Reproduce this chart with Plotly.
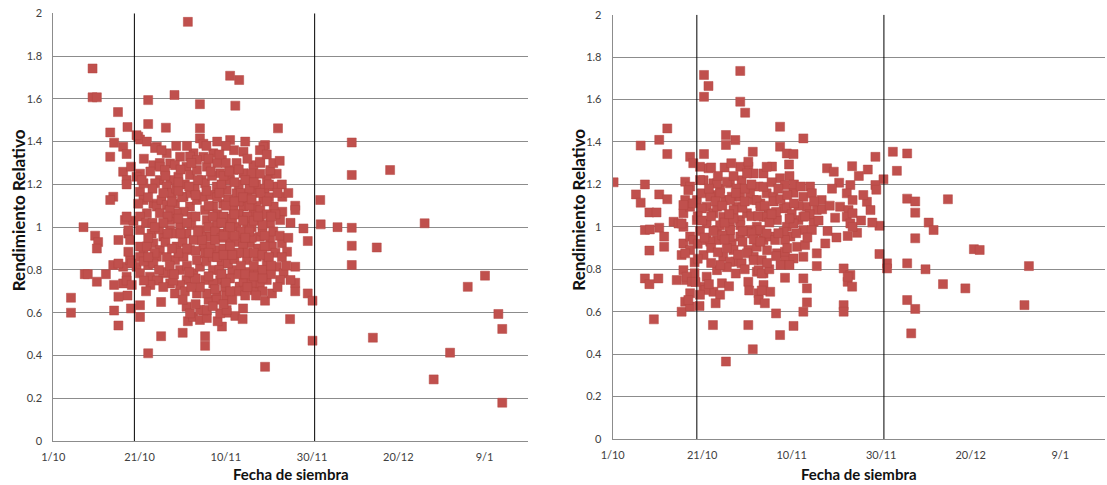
import plotly.graph_objects as go

# Sowing date expressed as days after 1 October, relative yield per field
left_points = [
    (4.1, 0.67), (4.1, 0.60), (7.3, 0.78), (8.0, 0.78), (10.1, 0.745), (12.2, 0.78), (7.0, 1.0),
    (9.7, 0.96), (10.4, 0.93), (10.1, 0.90), (14.1, 0.73), (15.1, 0.675), (14.1, 0.61), (15.1, 0.54),
    (17.2, 0.68), (18.0, 0.62), (20.1, 0.635), (20.1, 0.58), (22.0, 0.41), (25.0, 0.65), (25.0, 0.49),
    (30.0, 0.506), (35.2, 0.49), (35.2, 0.445), (31.2, 0.56), (49.1, 0.347), (39.1, 0.535), (38.1, 0.56),
    (40.2, 0.60), (42.2, 0.585), (43.9, 0.57), (43.2, 0.72), (46.6, 0.705), (49.1, 0.656), (32.4, 0.58),
    (34.0, 0.566), (35.6, 0.575), (34.8, 0.61), (36.0, 0.66), (37.9, 0.68), (40.1, 0.68),
    (54.9, 0.57), (59.0, 0.69), (60.1, 0.656), (60.1, 0.469), (56.1, 0.70), (56.1, 0.74), (56.1, 0.815),
    (59.0, 0.935), (69.2, 0.913), (69.2, 0.823), (75.0, 0.905), (74.1, 0.483), (88.2, 0.288),
    (92.0, 0.413), (96.1, 0.721), (100.1, 0.773), (103.2, 0.594), (104.1, 0.524), (104.1, 0.179),
    (65.9, 1.0), (69.2, 0.997), (52.1, 1.462), (69.2, 1.396), (69.2, 1.244), (78.1, 1.267), (61.9, 1.127),
    (62.0, 1.013), (86.1, 1.018), (58.0, 0.994), (56.1, 1.10), (56.1, 1.08), (53.1, 1.142), (53.1, 1.072),
    (49.1, 1.384), (50.3, 1.25), (51.8, 1.25), (48.0, 1.30),
    (31.2, 1.96), (9.1, 1.742), (9.1, 1.607), (10.1, 1.607), (41.0, 1.708), (43.1, 1.688), (42.2, 1.568),
    (34.0, 1.575), (28.1, 1.618), (22.0, 1.594), (15.0, 1.538), (17.2, 1.468), (22.0, 1.482), (26.1, 1.465),
    (34.0, 1.462), (13.2, 1.443), (14.1, 1.395), (13.2, 1.329), (16.2, 1.376), (17.0, 1.342), (13.9, 1.142),
    (13.2, 1.127), (16.2, 1.259), (17.0, 1.22), (17.0, 1.20), (18.0, 1.283), (19.7, 1.423), (20.1, 1.41),
    (21.7, 1.40), (24.0, 1.376), (26.3, 1.345), (15.1, 0.94), (16.6, 1.033), (18.6, 1.03), (20.1, 1.165),
    (20.9, 1.205), (20.1, 1.25), (23.2, 1.29), (24.7, 1.30), (27.1, 1.298), (29.4, 1.329), (32.5, 1.345),
    (34.8, 1.329), (37.1, 1.345), (41.0, 1.407), (41.9, 1.36), (44.1, 1.353), (48.7, 1.376), (46.4, 1.29),
    (19.3, 1.43), (34.0, 1.415), (34.8, 1.39), (23.6, 1.37), (25.1, 1.36), (31.7, 1.33), (33.3, 1.314),
    (19.3, 1.236), (20.5, 1.22), (24.7, 1.283), (25.9, 1.267), (28.2, 1.29), (29.0, 1.236), (27.1, 1.22),
    (24.7, 1.22), (30.9, 1.283), (31.7, 1.244), (33.3, 1.267), (34.4, 1.22), (26.3, 1.19), (23.6, 1.205),
    (20.9, 1.127), (19.7, 1.11), (23.2, 1.11), (24.0, 1.096), (25.1, 1.127), (26.3, 1.104), (28.2, 1.11),
    (30.2, 1.142), (31.7, 1.158), (31.7, 1.096), (33.3, 1.127), (34.8, 1.142), (35.2, 1.08), (30.2, 1.072),
    (32.1, 1.05), (21.7, 1.065), (20.1, 1.05), (17.0, 1.05), (24.7, 1.065), (27.1, 1.033), (28.6, 1.065),
    (17.4, 0.97), (17.8, 0.94), (20.1, 0.987), (22.8, 0.97), (23.2, 0.925), (25.5, 0.956), (27.1, 0.987),
    (29.4, 1.0), (30.9, 0.97), (32.5, 0.94), (34.0, 0.987), (35.6, 0.956), (28.6, 0.909), (31.7, 0.893),
    (34.8, 0.909), (24.7, 0.893), (20.9, 0.878), (20.1, 0.909),
    (13.9, 0.823), (16.2, 0.815), (17.8, 0.846), (17.0, 0.768), (16.2, 0.737), (19.3, 0.815), (20.1, 0.784),
    (22.0, 0.823), (22.4, 0.768), (24.0, 0.862), (24.4, 0.753), (26.3, 0.784), (27.1, 0.737), (28.2, 0.846),
    (29.4, 0.8), (30.9, 0.753), (32.5, 0.784), (34.0, 0.815), (35.2, 0.753), (30.2, 0.862), (33.3, 0.846),
    (28.2, 0.69), (30.9, 0.628), (31.7, 0.597), (34.0, 0.613), (29.4, 0.73), (33.3, 0.69),
    (17.4, 0.985), (17.4, 0.885), (15.1, 0.83), (18.2, 0.83), (17.0, 0.75), (18.2, 0.73), (20.1, 0.86),
    (21.7, 0.91), (23.2, 0.83), (24.0, 0.75), (25.5, 0.79), (26.3, 0.86), (27.8, 0.75),
    (47.9, 1.36), (39.1, 1.314), (47.9, 1.306), (50.3, 1.267),
    (35.6, 1.283), (38.7, 1.252), (41.8, 1.267), (44.1, 1.252), (45.6, 1.22), (49.5, 1.22), (51.1, 1.19),
    (35.2, 1.205), (37.9, 1.19), (40.2, 1.174), (42.5, 1.158), (46.4, 1.174), (48.7, 1.127), (51.1, 1.096),
    (37.1, 1.096), (39.4, 1.11), (41.8, 1.08), (44.1, 1.096), (46.4, 1.065), (47.9, 1.033), (50.3, 1.018),
    (52.6, 1.033), (35.6, 1.033), (37.9, 1.018), (40.2, 1.033), (42.5, 1.002), (44.9, 1.018), (36.4, 0.955),
    (38.7, 0.97), (41.0, 0.94), (43.3, 0.955), (45.6, 0.925), (47.9, 0.955), (50.3, 0.94), (50.7, 0.909),
    (53.0, 0.925), (54.2, 0.885), (35.2, 0.878), (37.9, 0.893), (40.2, 0.862), (42.5, 0.878), (44.9, 0.846),
    (47.2, 0.862), (49.5, 0.831), (51.8, 0.815), (53.4, 0.784), (55.0, 0.753), (52.6, 0.753), (49.5, 0.753),
    (47.9, 0.737), (43.3, 0.722), (44.1, 0.745), (38.7, 0.753), (39.8, 0.722), (37.1, 0.737), (35.6, 0.69),
    (37.9, 0.66), (35.6, 0.613), (38.7, 0.597), (40.2, 0.613), (50.7, 0.69),
    (36.5, 1.15), (39.0, 1.2), (41.0, 1.22), (43.0, 1.2), (45.0, 1.14), (47.0, 1.1), (38.0, 1.06),
    (40.5, 1.0), (43.5, 0.98), (46.0, 1.0), (48.5, 0.98), (39.5, 0.9), (41.5, 0.8), (45.5, 0.79),
    (47.5, 0.8), (42.5, 0.93), (37.0, 0.8), (39.0, 0.83),
    (21.0, 1.32), (22.5, 1.26), (23.0, 1.18), (22.0, 1.14), (21.5, 1.02), (22.0, 0.95), (21.0, 0.84),
    (23.5, 0.88), (22.5, 0.73), (21.5, 0.70), (26.0, 1.24), (27.5, 1.16), (28.5, 1.18), (29.5, 1.27),
    (29.8, 1.14), (30.5, 1.20), (27.0, 1.08), (29.0, 1.04), (28.0, 0.97), (26.0, 0.93), (30.0, 0.93),
    (29.0, 0.88), (27.0, 0.82), (25.5, 0.72), (28.0, 0.78), (31.0, 0.82), (32.0, 1.01), (33.0, 1.05),
    (32.8, 1.18), (33.5, 1.22), (32.0, 1.30), (36.0, 1.32), (38.0, 1.30), (40.0, 1.30), (42.5, 1.30),
    (45.0, 1.32), (46.0, 1.25), (48.0, 1.25), (49.0, 1.18), (47.0, 1.20), (36.8, 1.24), (39.5, 1.24),
    (42.0, 1.21), (43.5, 1.16), (45.5, 1.18), (50.0, 1.14), (36.0, 1.10), (38.0, 1.14), (40.5, 1.13),
    (43.0, 1.12), (45.5, 1.10), (48.0, 1.08), (49.5, 1.06), (51.5, 1.06), (36.0, 1.0), (37.5, 0.98),
    (39.5, 1.05), (41.5, 1.04), (43.0, 1.06), (45.0, 1.05), (46.5, 1.03), (48.5, 1.01), (51.0, 0.98),
    (52.5, 0.96), (34.5, 0.94), (36.5, 0.91), (39.0, 0.95), (40.5, 0.97), (42.0, 0.96), (44.0, 0.91),
    (46.0, 0.95), (47.5, 0.90), (49.0, 0.91), (51.5, 0.88), (53.0, 0.86), (35.5, 0.84), (37.0, 0.86),
    (38.5, 0.80), (40.5, 0.83), (42.0, 0.85), (43.5, 0.82), (45.0, 0.88), (46.5, 0.82), (48.5, 0.80),
    (50.5, 0.78), (52.0, 0.72), (54.0, 0.82), (36.0, 0.77), (41.0, 0.76), (42.5, 0.70), (44.5, 0.68),
    (46.0, 0.74), (48.5, 0.70), (34.0, 0.72), (30.5, 0.70), (32.0, 0.72), (37.0, 0.63), (39.5, 0.64),
    (41.5, 0.66), (44.0, 0.62), (33.0, 0.64), (30.0, 0.66), (53.0, 1.20), (54.5, 1.16), (55.0, 1.02),
    (54.5, 0.95), (51.0, 1.30), (52.5, 1.31), (49.5, 1.34), (44.5, 1.40), (40.0, 1.38), (38.0, 1.40),
    (31.0, 1.38), (28.5, 1.38), (35.5, 1.38), (23.0, 1.02), (24.5, 0.99), (26.5, 1.05), (25.5, 1.16),
    (29.0, 1.17), (31.0, 1.02), (33.5, 0.98), (36.5, 1.26), (38.5, 1.34), (40.8, 1.26), (43.0, 1.27),
    (44.5, 1.22), (46.5, 1.21), (48.0, 1.16), (50.0, 1.20), (52.0, 1.16), (38.5, 1.16), (40.0, 1.10),
    (42.0, 1.12), (44.0, 1.14), (46.0, 1.13), (47.5, 1.05), (49.5, 1.12), (35.5, 1.17), (37.0, 1.05),
    (39.0, 1.02), (41.0, 1.00), (42.0, 1.06), (44.0, 1.03), (45.5, 0.98), (49.0, 0.96), (50.5, 1.05),
    (37.5, 0.94), (39.5, 0.96), (41.0, 0.91), (43.0, 0.88), (44.5, 0.95), (46.5, 0.88), (48.5, 0.87),
    (50.0, 0.86), (36.0, 0.88), (38.0, 0.86), (39.5, 0.87), (41.5, 0.87), (43.0, 0.78), (44.5, 0.78),
    (46.5, 0.77), (48.5, 0.76), (50.5, 0.82), (39.0, 0.78), (40.0, 0.74), (37.5, 0.71), (45.0, 0.72),
    (47.0, 0.68), (41.0, 0.70), (33.0, 0.76), (31.5, 0.79), (31.0, 0.90), (33.0, 0.89), (29.5, 0.97),
    (27.5, 0.90), (26.5, 0.97), (25.5, 1.02), (27.5, 1.12), (29.0, 1.21), (31.5, 1.19), (33.0, 1.15),
    (23.5, 1.00), (22.0, 0.86), (21.0, 0.75), (24.5, 0.80),
]

right_points = [
    (0.2, 1.21), (6.25, 1.383), (7.2, 1.20), (5.2, 1.153), (6.25, 1.114), (8.2, 1.068), (9.8, 1.068),
    (10.4, 1.41), (12.2, 1.464), (12.2, 1.343), (10.4, 1.153), (12.2, 1.13), (7.2, 0.985), (8.3, 0.988),
    (10.4, 0.996), (11.5, 0.954), (13.6, 1.024), (14.7, 1.016), (15.8, 1.064), (16.2, 1.126), (16.2, 1.213),
    (17.3, 1.19), (17.3, 1.33), (18.0, 1.30), (18.8, 1.126), (17.3, 1.095), (15.8, 1.0),
    (20.4, 1.716), (21.4, 1.664), (20.4, 1.613), (28.5, 1.735), (28.5, 1.59), (29.6, 1.538), (25.3, 1.433),
    (25.3, 1.386), (27.4, 1.409), (20.4, 1.343), (21.4, 1.276), (20.3, 1.22), (19.9, 1.158), (25.0, 1.28),
    (22.5, 1.205), (24.0, 1.18), (26.2, 1.205), (22.5, 1.15), (25.1, 1.126), (26.6, 1.142), (27.7, 1.095),
    (21.0, 1.095), (22.5, 1.064), (24.7, 1.048), (21.0, 1.016), (23.3, 0.985), (26.2, 1.0), (28.5, 1.032),
    (30.0, 1.064), (28.8, 1.22), (30.3, 1.284), (31.3, 1.354), (31.5, 1.252), (32.6, 1.19), (33.7, 1.252),
    (31.5, 1.126), (33.0, 1.11), (34.4, 1.158), (34.8, 1.064), (32.2, 1.0), (30.7, 0.985), (35.6, 1.284),
    (37.4, 1.472), (37.4, 1.378), (38.9, 1.346), (40.4, 1.343), (39.4, 1.294), (42.6, 1.417), (37.4, 1.229),
    (38.5, 1.197), (40.4, 1.161), (38.2, 1.087), (42.6, 1.142), (44.1, 1.19), (44.5, 1.158), (43.4, 1.095),
    (45.6, 1.08), (46.7, 1.126), (47.9, 1.276), (36.7, 1.032), (38.9, 1.0), (41.5, 1.032), (42.6, 0.985),
    (44.9, 1.024), (28.5, 0.954),
    (11.5, 0.906), (8.2, 0.888), (7.2, 0.757), (8.2, 0.73), (10.2, 0.757), (9.2, 0.564), (14.3, 0.749),
    (15.4, 0.867), (15.8, 0.796), (16.4, 0.749), (15.4, 0.6), (16.2, 0.647), (17.3, 0.687), (17.3, 0.624),
    (19.4, 0.627), (18.3, 0.833), (18.3, 0.781), (15.8, 0.922), (17.3, 0.954), (17.3, 0.891),
    (22.4, 0.537), (25.3, 0.365), (30.3, 0.537), (31.3, 0.423), (37.4, 0.49), (40.4, 0.533), (36.5, 0.592),
    (42.6, 0.6), (43.4, 0.644),
    (20.3, 0.718), (21.0, 0.765), (22.5, 0.694), (23.3, 0.796), (24.4, 0.734), (20.3, 0.867), (21.0, 0.938),
    (23.3, 0.938), (24.7, 0.859), (26.6, 0.922), (27.4, 0.836), (28.8, 0.828), (26.2, 0.954), (30.0, 0.977),
    (30.3, 0.891), (30.3, 0.741), (31.5, 0.859), (32.2, 0.788), (32.6, 0.687), (32.6, 0.655), (33.7, 0.781),
    (33.7, 0.726), (35.2, 0.694), (33.7, 0.938), (35.2, 0.954), (36.7, 0.875), (38.5, 0.851), (38.5, 0.76),
    (39.7, 0.954), (41.2, 0.906), (42.6, 0.859), (42.6, 0.757), (43.4, 0.71), (45.6, 0.875), (45.6, 0.815),
    (47.5, 0.922), (38.2, 0.977), (32.2, 0.977),
    (19.5, 1.283), (28.5, 1.283), (30.3, 1.307), (30.0, 1.252), (34.4, 1.283), (16.9, 1.173), (19.5, 1.221),
    (23.3, 1.205), (25.5, 1.213), (27.7, 1.181), (21.8, 1.142), (24.0, 1.158), (26.2, 1.126), (28.5, 1.142),
    (30.7, 1.158), (32.2, 1.126), (15.8, 1.103), (18.0, 1.111), (19.9, 1.087), (23.3, 1.095), (27.0, 1.079),
    (33.0, 1.095), (33.7, 1.048), (15.4, 1.016), (18.8, 1.032), (24.0, 1.008), (26.2, 0.985), (28.5, 1.008),
    (31.1, 0.969), (33.0, 0.985), (16.2, 0.875), (18.0, 0.938), (21.8, 0.93), (27.0, 0.891), (26.2, 0.836),
    (30.0, 0.875), (31.5, 0.843), (32.2, 0.906), (16.5, 0.765), (17.7, 0.741), (20.7, 0.702), (32.6, 0.796),
    (16.9, 0.655),
    (49.4, 1.26), (53.5, 1.286), (58.7, 1.33), (62.6, 1.354), (63.5, 1.264), (60.5, 1.224), (58.7, 1.197),
    (58.9, 1.175), (50.6, 1.208), (53.1, 1.197), (33.7, 1.189), (35.9, 1.142), (38.9, 1.095), (50.8, 1.095),
    (52.7, 1.079), (56.8, 1.118), (57.6, 1.079), (49.7, 1.043), (52.3, 1.048), (34.4, 1.048), (40.4, 1.016),
    (42.6, 1.048), (44.5, 0.985), (53.1, 1.016), (54.6, 0.972), (52.5, 0.957), (59.6, 1.005), (34.4, 0.969),
    (36.3, 0.938), (38.5, 0.938), (38.5, 0.883), (43.0, 0.914), (40.4, 0.851), (36.5, 0.862), (33.3, 0.843),
    (59.6, 0.872), (61.3, 0.828), (61.3, 0.804), (51.6, 0.804), (53.1, 0.773), (52.5, 0.741), (53.5, 0.718),
    (51.6, 0.631), (51.6, 0.6), (33.3, 0.78), (33.3, 0.70),
    (65.8, 1.346), (52.3, 1.158), (53.6, 1.126), (53.6, 1.064), (53.6, 1.0), (46.8, 1.083), (65.8, 1.133),
    (67.6, 1.12), (67.6, 1.067), (70.6, 1.02), (71.7, 0.985), (74.9, 1.13), (67.6, 0.946),
    (65.8, 0.828), (69.9, 0.8), (73.8, 0.73), (78.8, 0.71), (80.7, 0.895), (82.0, 0.891), (93.0, 0.815),
    (92.0, 0.631), (65.8, 0.655), (67.6, 0.613), (66.7, 0.498), (52.5, 0.765),
    (19.0, 1.05), (20.0, 1.03), (19.5, 0.98), (19.0, 0.92), (20.5, 0.95), (22.5, 0.98), (22.0, 0.90),
    (23.5, 0.88), (25.5, 0.90), (24.5, 0.96), (25.0, 1.02), (27.0, 1.04), (29.0, 1.09), (29.5, 1.18),
    (31.0, 1.20), (27.0, 1.24), (23.5, 1.24), (22.0, 1.28), (26.5, 1.30), (35.5, 1.21), (36.0, 1.12),
    (36.5, 1.07), (35.0, 1.02), (37.5, 1.13), (39.5, 1.24), (40.5, 1.20), (41.5, 1.10), (40.0, 1.06),
    (37.0, 0.97), (39.0, 0.90), (37.5, 0.82), (35.0, 0.80), (31.5, 0.94), (29.0, 0.93), (28.0, 0.87),
    (27.5, 0.78), (25.5, 0.81), (24.0, 0.82), (22.0, 0.83), (19.0, 0.85), (18.5, 0.74), (19.5, 0.68),
    (21.5, 0.73), (34.5, 0.89), (29.5, 0.80), (30.5, 0.70), (34.0, 0.64), (24.0, 0.68), (26.0, 0.72),
    (23.0, 0.64), (41.0, 0.97), (43.5, 0.95), (44.0, 1.06), (45.0, 1.12), (46.0, 1.03), (48.5, 1.10),
    (48.0, 0.98), (50.0, 0.95), (49.0, 1.18), (55.5, 1.03), (56.0, 1.15), (58.0, 1.02), (55.0, 1.24),
    (57.0, 1.27),
    (21.5, 1.18), (23.0, 1.12), (24.5, 1.10), (26.0, 1.06), (27.5, 1.16), (29.5, 1.12), (31.0, 1.05),
    (32.5, 1.05), (34.0, 1.10), (35.5, 1.06), (37.0, 1.18), (39.0, 1.15), (40.5, 1.11), (42.0, 1.19),
    (43.0, 1.05), (39.5, 1.04), (33.0, 0.93), (34.5, 0.83), (39.5, 0.82), (29.0, 0.98), (25.0, 0.94),
    (22.0, 1.05),
]

left_day, left_rr = map(list, zip(*left_points))
right_day, right_rr = map(list, zip(*right_points))

tick_days = [0, 20, 40, 60, 80, 100]
tick_labels = ["1/10", "21/10", "10/11", "30/11", "20/12", "9/1"]
window_days = [18.8, 60.6]  # reference sowing dates marked with vertical lines

x_title = "Fecha de siembra"
y_title = "Rendimiento Relativo"

W, H = 1107, 485
MARKER = dict(symbol="square", size=9, color="#C0504D", line=dict(color="#B44643", width=0.5))
GRID = "#8C8C8C"
FAMILY = "Lato, 'Open Sans', sans-serif"
TICK_FONT = dict(family=FAMILY, size=11, color="#404040")
TITLE_FONT_X = dict(family=FAMILY, size=15, color="#111111")
TITLE_FONT_Y = dict(family=FAMILY, size=17, color="#111111")

fig = go.Figure()
fig.add_trace(go.Scatter(x=left_day, y=left_rr, mode="markers", marker=MARKER,
                         xaxis="x", yaxis="y", showlegend=False, hoverinfo="x+y"))
fig.add_trace(go.Scatter(x=right_day, y=right_rr, mode="markers", marker=MARKER,
                         xaxis="x2", yaxis="y2", showlegend=False, hoverinfo="x+y"))

# panel frames in pixels: (left, right, top, bottom)
panels = [(53.3, 527.7, 13.3, 441.0), (612.7, 1105.0, 14.7, 439.0)]


def xdom(p):
    return [p[0] / W, p[1] / W]


def ydom(p):
    return [(H - p[3]) / H, (H - p[2]) / H]


xaxis_common = dict(range=[0, 110], tickmode="array", tickvals=tick_days, ticktext=tick_labels,
                    showgrid=False, zeroline=False, showline=True, linecolor=GRID, linewidth=1,
                    ticks="", ticklabelstandoff=6, tickfont=TICK_FONT, fixedrange=True,
                    automargin=False)
yaxis_common = dict(range=[0, 2], dtick=0.2, tick0=0, showgrid=True, gridcolor=GRID, gridwidth=1,
                    zeroline=False, showline=True, linecolor=GRID, linewidth=1, ticks="",
                    ticklabelstandoff=8, tickfont=TICK_FONT, fixedrange=True, automargin=False)

fig.update_layout(
    width=W, height=H,
    margin=dict(l=0, r=0, t=0, b=0, autoexpand=False),
    paper_bgcolor="white", plot_bgcolor="white",
    xaxis=dict(domain=xdom(panels[0]), anchor="y", **xaxis_common),
    yaxis=dict(domain=ydom(panels[0]), anchor="x", **yaxis_common),
    xaxis2=dict(domain=xdom(panels[1]), anchor="y2", **xaxis_common),
    yaxis2=dict(domain=ydom(panels[1]), anchor="x2", **yaxis_common),
)

shapes = []
annotations = []
for i, (xa, ya) in enumerate([("x", "y"), ("x2", "y2")]):
    for d in window_days:
        shapes.append(dict(type="line", xref=xa, yref=ya, x0=d, x1=d, y0=0, y1=2,
                           line=dict(color="black", width=1), layer="above"))
    p = panels[i]
    annotations.append(dict(text=f"<b>{x_title}</b>", xref="paper", yref="paper",
                            x=(p[0] + p[1]) / 2 / W, y=(H - 474) / H, showarrow=False,
                            xanchor="center", yanchor="middle", font=TITLE_FONT_X))
    annotations.append(dict(text=f"<b>{y_title}</b>", xref="paper", yref="paper",
                            x=(p[0] - 35) / W, y=(H - 210) / H, showarrow=False, textangle=-90,
                            xanchor="center", yanchor="middle", font=TITLE_FONT_Y))

fig.update_layout(shapes=shapes, annotations=annotations)
fig.write_html("out.html")
